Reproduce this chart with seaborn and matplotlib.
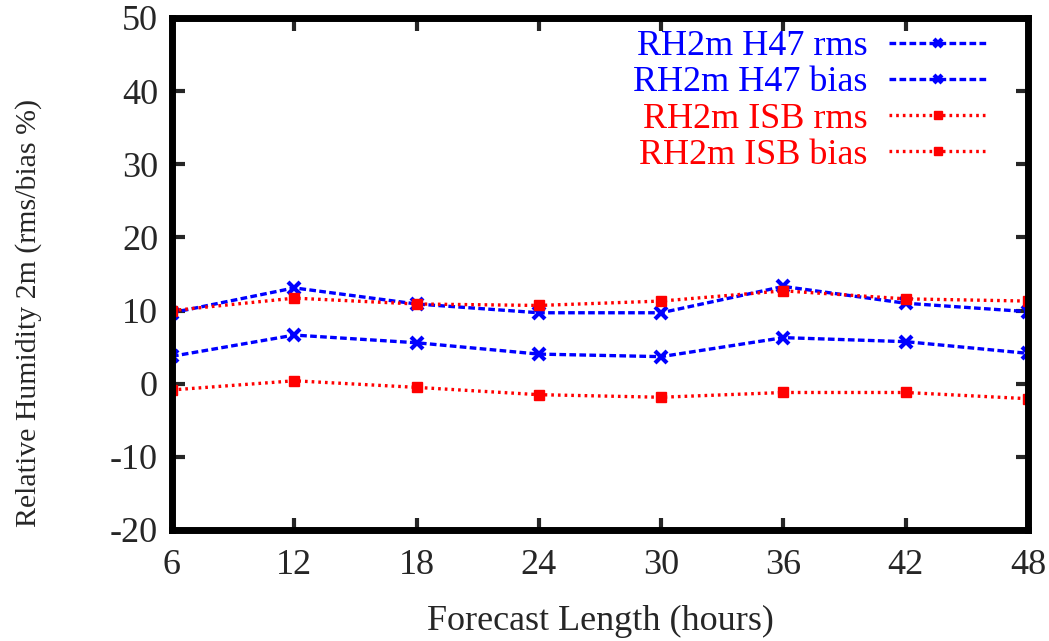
import matplotlib
matplotlib.use("Agg")
import matplotlib.pyplot as plt
import numpy as np
import pandas as pd
import seaborn as sns

hours = [6, 12, 18, 24, 30, 36, 42, 48]
h47_rms = [9.7, 13.1, 10.9, 9.7, 9.7, 13.3, 11.0, 9.85]
h47_bias = [3.75, 6.65, 5.6, 4.05, 3.7, 6.3, 5.75, 4.15]
isb_rms = [10.0, 11.7, 10.9, 10.7, 11.3, 12.7, 11.6, 11.3]
isb_bias = [-0.85, 0.4, -0.5, -1.5, -1.85, -1.2, -1.2, -2.05]

series = {
    "RH2m H47 rms": h47_rms,
    "RH2m H47 bias": h47_bias,
    "RH2m ISB rms": isb_rms,
    "RH2m ISB bias": isb_bias,
}
styles = {
    "RH2m H47 rms": dict(color="#0000ff", marker="x", dashes=(2.0, 1.0), ms=8, mew=3),
    "RH2m H47 bias": dict(color="#0000ff", marker="x", dashes=(2.0, 1.0), ms=8, mew=3),
    "RH2m ISB rms": dict(color="#ff0000", marker="s", dashes=(0.8, 1.2), ms=7, mew=1),
    "RH2m ISB bias": dict(color="#ff0000", marker="s", dashes=(0.8, 1.2), ms=7, mew=1),
}

df = pd.concat(
    [pd.DataFrame({"hours": hours, "value": vals, "series": name}) for name, vals in series.items()],
    ignore_index=True,
)

sns.set_style("ticks")
plt.rcParams["font.family"] = ["Liberation Serif", "DejaVu Serif"]
plt.rcParams["axes.unicode_minus"] = False

fig = plt.figure(figsize=(10.49, 6.41), dpi=100)
ax = fig.add_axes([172 / 1049, 1 - 530 / 641, (1028 - 172) / 1049, (530 - 18) / 641])

for name in series:
    st = styles[name]
    sub = df[df["series"] == name]
    sns.lineplot(
        data=sub, x="hours", y="value", ax=ax, color=st["color"], linewidth=2.4,
        marker=st["marker"], markersize=st["ms"], markeredgewidth=st["mew"],
        markeredgecolor=st["color"], label=name,
    )
    ax.lines[-1].set_dashes(st["dashes"])

ax.set_xlim(6, 48)
ax.set_ylim(-20, 50)
ax.set_xticks(hours)
ax.set_yticks(np.arange(-20, 51, 10))
ax.tick_params(direction="in", length=9, width=3, labelsize=26, top=True, right=True)
ax.tick_params(axis="x", pad=14)
ax.tick_params(axis="y", pad=10)
for sp in ax.spines.values():
    sp.set_linewidth(5)
    sp.set_color("black")
ax.set_xlabel("Forecast Length (hours)", fontsize=26, labelpad=16)
ax.set_ylabel("Relative Humidity 2m (rms/bias %)", fontsize=21.5)
ax.yaxis.set_label_coords(-0.152, 0.424)

leg = ax.legend(
    loc="upper right", bbox_to_anchor=(0.99, 1.04), frameon=False, markerfirst=False,
    fontsize=26, handlelength=2.7, handletextpad=0.6, labelspacing=0.08,
    labelcolor="linecolor", numpoints=1,
)
for h in leg.legend_handles:
    h.set_markersize(6)

fig.savefig("out.png", dpi=100)
